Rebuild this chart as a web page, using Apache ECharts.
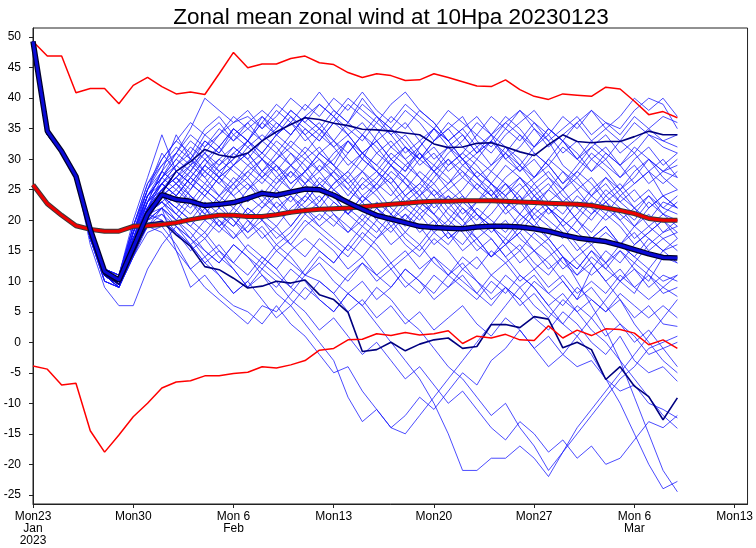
<!DOCTYPE html>
<html>
<head>
<meta charset="utf-8">
<script src="https://cdn.jsdelivr.net/npm/echarts@6/dist/echarts.min.js"></script>
<style>
  html, body { margin: 0; padding: 0; background: #fff; }
  #chart { width: 756px; height: 548px; }
</style>
</head>
<body>
<div id="chart"></div>
<script>
// tick labels (days since Mon 23 Jan 2023)
var tickDays = [0, 7, 14, 21, 28, 35, 42, 49];
var tickLabels = ['Mon23\nJan\n2023', 'Mon30', 'Mon 6\nFeb', 'Mon13', 'Mon20', 'Mon27', 'Mon 6\nMar', 'Mon13'];
var yTicks = [-25, -20, -15, -10, -5, 0, 5, 10, 15, 20, 25, 30, 35, 40, 45, 50];

// climatology
var climMax = [49.3,46.9,46.9,40.9,41.6,41.6,39.1,42.1,43.4,41.9,
  40.7,41.0,40.6,44.0,47.5,45.0,45.6,45.6,46.5,46.9,
  45.8,45.5,44.2,43.4,44.0,43.7,42.9,43.0,44.0,43.4,
  42.7,42.0,41.9,43.0,41.4,40.3,39.8,40.7,40.5,40.3,
  41.8,41.5,39.5,37.3,37.8,36.8];
var climMean = [25.8,22.7,20.8,19.1,18.5,18.2,18.2,19.0,19.1,19.3,
  19.6,20.1,20.5,20.8,20.8,20.6,20.6,20.9,21.3,21.6,
  21.8,21.9,22.0,22.2,22.4,22.6,22.8,23.0,23.1,23.1,
  23.2,23.2,23.2,23.1,23.0,22.9,22.8,22.7,22.6,22.4,
  22.0,21.6,21.1,20.3,20.0,20.0];
var climMin = [-3.9,-4.4,-7.0,-6.7,-14.5,-18.0,-15.2,-12.2,-10.0,-7.5,
  -6.5,-6.3,-5.5,-5.5,-5.1,-4.9,-4.0,-4.2,-3.7,-3.0,
  -1.3,-1.0,0.4,0.5,1.4,1.1,1.6,1.2,1.4,1.9,
  -0.2,1.0,0.7,1.3,0.4,0.3,2.7,0.7,2.0,1.1,
  2.2,2.1,1.5,-0.4,0.4,-1.0];

// ensemble mean and the two dark runs
var ensMean = [49.3,34.6,31.3,27.2,18.5,11.6,10.2,15.5,21.0,24.2,
  23.4,23.1,22.4,22.6,22.9,23.6,24.4,24.1,24.6,25.1,
  25.0,24.1,22.9,21.8,20.8,20.2,19.6,19.0,18.8,18.7,
  18.6,18.9,19.0,19.0,18.9,18.6,18.2,17.6,17.1,16.8,
  16.5,15.9,15.2,14.5,13.9,13.8];
var runA = [49.3,34.8,31.2,27.0,18.0,11.0,9.5,15.0,21.5,24.5,
  28.0,29.6,31.6,30.7,30.3,31.0,33.0,34.5,35.7,36.8,
  36.5,35.9,35.5,34.9,34.8,34.6,34.3,34.0,32.5,31.9,
  32.0,32.6,32.7,32.0,31.2,30.6,32.4,34.0,32.9,32.7,
  32.9,32.9,33.7,34.6,34.0,34.0];
var runB = [49.3,34.5,31.0,27.0,18.0,11.5,9.5,14.5,19.5,19.8,
  17.6,15.7,12.4,11.9,10.5,8.9,9.2,10.0,9.7,10.2,
  7.8,7.0,4.9,-1.5,-1.2,0.0,-1.4,-0.3,0.4,0.7,
  -1.0,-0.7,2.9,2.9,2.4,4.2,3.8,-0.9,0.0,-1.2,
  -6.1,-4.0,-7.2,-8.9,-12.7,-9.1];

// ensemble members
var m01 = [49,35,31,27,18,11,9,15,22,27, 31,35,40,38,36,37,35,38,36,39, 37,40,38,41,38,36,39,37,35,38, 36,34,37,35,38,36,33,35,37,34, 36,35,38,40,39,35];
var m02 = [49,35,31,27,17,10,9,16,23,26, 28,30,33,31,34,36,33,35,38,36, 39,37,34,36,33,35,32,30,33,35, 37,33,31,34,36,38,35,33,36,38, 35,37,40,38,40,37];
var m03 = [49,34,31,27,18,12,10,17,22,25, 27,25,29,27,31,33,36,34,37,35, 33,36,39,37,35,32,34,31,29,32, 30,27,29,32,30,27,30,33,31,28, 30,33,31,34,32,31];
var m04 = [49,35,31,27,17,11,10,18,24,28, 26,29,27,30,28,26,24,27,25,28, 31,29,33,30,34,37,35,38,36,33, 35,32,34,30,28,31,29,26,29,32, 30,27,29,26,28,29];
var m05 = [49,35,31,27,18,12,11,19,25,30, 33,31,35,37,34,32,30,33,31,28, 30,27,25,28,26,29,32,30,33,36, 34,31,33,30,32,35,33,29,27,30, 28,25,27,30,28,27];
var m06 = [49,34,31,27,17,11,9,14,20,24, 23,26,24,27,29,31,28,30,33,31, 34,32,29,31,33,30,28,31,28,25, 27,30,28,31,29,32,35,33,30,28, 31,29,26,28,24,25];
var m07 = [49,35,31,27,18,12,10,17,23,28, 34,30,27,24,26,23,25,22,24,21, 23,26,28,25,27,30,28,32,35,33, 30,28,26,29,27,24,26,23,25,22, 25,23,21,24,22,24];
var m08 = [49,35,31,27,18,11,10,16,21,24, 26,23,21,24,22,25,27,29,26,28, 31,33,30,28,31,29,26,24,27,30, 28,25,23,26,24,21,23,25,22,20, 23,21,19,22,24,22];
var m09 = [49,35,31,27,17,10,9,17,24,27, 29,32,30,27,25,28,30,27,29,32, 30,28,31,34,32,29,27,24,26,23, 25,28,26,23,21,24,22,19,21,24, 22,20,17,19,21,19];
var m10 = [49,34,31,27,18,12,11,18,24,26, 24,22,25,23,20,18,21,19,22,24, 27,25,23,26,28,25,22,24,21,19, 22,20,23,25,27,24,21,23,20,18, 21,19,16,18,20,18];
var m11 = [49,35,31,27,18,11,10,16,22,25, 27,29,31,28,30,33,31,29,26,28, 25,23,21,24,22,20,23,21,18,20, 23,21,19,17,20,22,25,23,20,17, 19,16,14,17,15,16];
var m12 = [49,35,31,27,17,11,9,15,21,23, 21,19,22,20,17,19,22,24,21,23, 26,24,21,19,22,20,17,15,18,16, 19,17,14,16,19,17,15,12,14,16, 13,15,12,10,14,13];
var m13 = [49,35,31,27,18,12,10,17,22,24, 22,25,28,26,24,21,23,26,28,25, 22,20,18,21,19,16,18,21,23,20, 18,15,17,14,16,13,11,14,12,15, 12,10,13,11,9,11];
var m14 = [49,34,31,27,17,11,10,18,23,25, 27,24,22,19,17,20,18,15,17,20, 18,16,14,17,15,12,14,16,13,11, 14,12,15,13,10,12,9,11,8,10, 8,11,9,7,9,7.5];
var m15 = [49,35,31,27,18,12,10,16,20,22, 20,17,15,13,16,14,12,15,13,11, 14,12,10,13,11,9,12,10,8,11, 9,7,10,8,11,9,6,8,5,7, 5,8,6,4,6,4];
var m16 = [49,35,31,27,18,11,9,14,18,19, 16,12,9,7,5,3,6,5,8,11, 10,8,11,13,10,12,9,11,14,12, 10,8,11,9,7,10,8,6,9,7, 5,7,4,6,3,2.6];
var m17 = [49,35,31,27,17,10,9,16,23,28, 31,34,32,35,33,36,38,36,34,37, 35,32,34,31,29,32,30,27,25,22, 24,21,19,16,18,15,13,10,7,9, 6,3,1,-2,-1,-4];
var m18 = [49,34,31,27,18,12,11,18,24,27, 25,28,26,29,31,29,27,30,32,30, 28,31,33,30,28,26,29,31,28,26, 29,27,24,26,23,20,22,19,16,13, 10,7,3,0,-3,-5];
var m19 = [49,35,31,27,18,11,10,17,21,20, 18,16,13,15,12,9,11,8,6,9, 7,5,8,10,7,9,12,10,7,9, 11,8,6,9,7,4,2,5,3,0, -2,1,-3,-5,-4,-6.4];
var m20 = [49,35,31,27,17,11,10,15,19,21, 19,17,14,16,13,11,14,12,9,7, 10,8,5,7,4,6,3,5,2,4, 6,3,1,4,2,-1,1,-2,-4,-3, -6,-8,-7,-10,-11,-12.4];
var m21 = [49,34,31,27,18,12,10,17,22,25, 23,21,24,22,20,17,19,16,18,21, 19,17,15,18,16,13,15,12,14,11, 13,10,8,11,9,6,4,7,5,2, 0,-3,-6,-9,-12,-14.1];
var m22 = [49,35,31,27,18,11,10,16,22,26, 29,27,30,32,29,31,28,26,29,27, 25,28,26,23,25,22,20,23,21,18, 16,19,17,14,11,9,6,3,1,-2, -6,-10,-15,-20,-24,-22.8];
var m23 = [49,35,31,27,17,11,9,14,19,22, 24,27,25,28,30,33,31,34,32,35, 33,36,34,31,33,30,32,29,31,28, 30,27,25,22,24,20,17,14,10,6, 2,-3,-9,-15,-21,-24.5];
var m24 = [49,35,31,27,18,12,10,17,21,23, 20,18,15,13,16,14,11,9,12,10, 7,5,8,6,3,0,-3,-6,-10,-15, -21,-21,-19,-19,-17,-19,-22,-18,-15,-12, -9,-6,-4,-1,0,1];
var m25 = [49,34,31,27,17,11,9,15,19,18, 15,12,14,11,8,10,7,4,6,3, 0,-3,-9,-13,-11,-14,-15,-12,-9,-6, -3,0,3,6,9,11,8,10,7,12, 15,13,16,18,20,17];
var m26 = [49,35,31,27,18,12,10,16,20,22, 15,9,11,8,6,5,3,6,3,1, -2,-5,-4,-8,-11,-14,-12,-9,-11,-8, -5,-7,-3,-1,2,-1,-4,-2,1,4, 7,10,8,12,10,11];
var m27 = [49,35,31,27,18,11,10,17,22,24, 21,19,17,20,18,15,13,16,14,11, 13,10,8,6,9,7,4,2,-1,-4, -6,-9,-12,-10,-14,-17,-21,-18,-14,-11, -8,-5,-2,1,4,7];
var m28 = [49,34,31,27,17,11,9,16,20,21, 18,15,17,14,12,9,12,10,7,5, 2,4,1,-2,0,-3,-6,-4,-7,-10, -8,-11,-14,-16,-13,-15,-18,-16,-19,-17, -20,-19,-16,-13,-14,-12];
var m29 = [49,35,31,27,18,12,11,19,26,29, 32,30,34,36,33,35,37,35,38,36, 34,37,35,33,36,34,31,33,30,32, 29,31,34,32,29,27,30,28,25,27, 24,26,23,25,22,21];
var m30 = [49,35,31,27,18,11,10,18,25,31, 28,26,29,32,35,33,36,39,37,34, 36,33,31,34,37,35,33,30,28,31, 33,36,34,37,35,32,34,31,33,30, 32,29,31,28,30,27];
var m31 = [49,34,31,27,17,11,10,16,22,26, 24,27,30,28,26,29,31,34,36,34, 31,29,26,28,25,27,24,22,25,23, 20,23,25,22,19,22,20,18,15,17, 19,16,18,15,17,15];
var m32 = [49,35,31,27,18,12,10,16,21,23, 25,23,20,22,25,27,24,22,19,22, 24,21,19,17,20,23,25,28,26,29, 31,29,26,24,27,25,22,20,18,21, 23,20,22,19,17,18];
var m33 = [49,35,31,27,18,11,9,15,20,22, 20,23,26,24,27,25,28,31,29,26, 23,26,28,31,29,27,24,26,29,27, 24,21,19,22,25,27,29,26,28,31, 29,27,30,32,29,31];
var m34 = [49,35,31,27,18,12,10,17,24,27, 30,28,32,34,37,35,33,36,34,37, 39,37,40,38,36,39,41,38,36,33, 35,37,34,36,38,35,32,34,36,33, 35,33,36,34,33,34];
var m35 = [49,34,31,27,17,10,9,15,19,20, 18,16,18,15,13,16,14,12,15,17, 15,13,16,14,17,19,16,14,17,15, 12,14,11,13,15,12,14,16,13,11, 13,10,12,9,11,10];
var m36 = [49,35,31,27,18,12,10,17,21,22, 19,16,13,11,8,10,13,11,9,12, 15,13,16,19,17,20,22,20,23,25, 23,26,24,21,23,26,28,25,27,24, 26,23,25,22,24,22];
var m37 = [49,34,31,27,16,9,6,6,12,16, 19,17,20,18,21,24,22,25,23,26, 28,25,23,26,24,21,19,22,20,17, 19,16,14,17,15,18,16,13,11,14, 12,15,13,16,18,19];
var m38 = [49,35,31,27,18,12,11,20,27,34, 28,26,29,27,24,26,23,21,24,22, 19,21,18,20,23,21,18,16,19,22, 20,17,19,16,18,21,19,17,20,23, 21,24,22,20,23,22];
var m39 = [49,35,31,27,18,11,10,18,23,26, 29,31,28,30,32,30,27,25,28,26, 29,27,24,27,25,28,26,23,21,24, 22,19,21,24,26,23,25,28,26,24, 27,25,28,30,27,25];
var m40 = [49,35,31,27,17,11,10,16,21,24, 22,20,23,21,19,22,20,18,16,19, 21,19,22,20,18,21,24,26,24,21, 19,21,18,20,17,15,17,14,12,15, 13,16,14,12,15,13];
var m41 = [49,35,31,27,18,12,10,18,24,27, 30,33,31,34,36,38,35,37,40,38, 41,38,36,39,37,34,36,33,35,32, 34,31,33,36,34,31,29,32,30,33, 31,29,32,30,28,30];
var m42 = [49,34,31,27,17,11,9,16,22,25, 28,26,24,27,29,27,30,28,25,23, 26,24,21,23,20,18,21,19,16,18, 15,17,14,16,13,15,12,14,11,13, 10,12,9,11,8,9];
var m43 = [49,35,31,27,18,12,10,17,22,24, 22,20,18,21,19,22,20,23,21,24, 22,25,27,24,26,29,27,30,32,29, 31,34,32,35,33,36,34,37,35,38, 36,34,37,35,37,36];
var m44 = [49,35,31,27,18,11,10,18,25,29, 31,29,33,31,35,33,37,34,36,33, 35,38,36,40,37,35,38,36,33,35, 32,30,33,31,28,30,27,25,28,26, 23,25,22,24,21,20];
var m45 = [49,35,31,27,17,11,10,17,22,23, 21,24,22,19,21,18,20,17,19,22, 20,23,21,24,22,19,21,18,20,17, 19,22,20,18,21,19,17,20,18,16, 18,16,19,17,15,17];
var m46 = [49,34,31,27,18,12,11,19,25,28, 26,28,31,29,32,30,33,31,34,37, 35,33,36,34,31,33,30,32,35,33, 30,32,29,31,34,32,35,33,30,32, 34,31,33,35,33,32];
var m47 = [49,35,31,27,18,12,10,17,21,24, 26,24,21,19,22,20,17,19,16,14, 17,15,12,14,11,13,10,8,11,9, 12,10,7,9,6,8,5,3,6,4, 1,3,0,2,-1,0];
var m48 = [49,35,31,27,18,11,10,19,26,30, 33,36,34,32,35,33,30,28,31,29, 26,28,25,23,26,24,27,25,22,24, 21,23,26,24,21,19,22,20,23,21, 24,22,20,23,21,23];
var m49 = [49,34,31,27,17,11,9,16,21,25, 27,30,28,26,29,32,34,32,29,31, 28,30,33,31,28,26,23,25,28,30, 27,25,28,26,23,25,27,24,22,25, 27,24,26,28,26,28];
var m50 = [49,35,31,27,18,12,10,17,23,26, 24,27,25,23,26,28,26,29,27,30, 32,29,27,30,28,31,29,27,24,26, 28,26,24,27,29,26,23,21,24,22, 20,22,19,21,18,20];

var members = [m01,m02,m03,m04,m05,m06,m07,m08,m09,m10,m11,m12,m13,m14,m15,m16,m17,m18,m19,m20,
  m21,m22,m23,m24,m25,m26,m27,m28,m29,m30,m31,m32,m33,m34,m35,m36,m37,m38,m39,m40,
  m41,m42,m43,m44,m45,m46,m47,m48,m49,m50];

function pts(arr) {
  return arr.map(function (v, i) { return [i, v]; });
}
function line(arr, color, width, z) {
  return {
    type: 'line', data: pts(arr), symbol: 'none', silent: true, z: z,
    lineStyle: { color: color, width: width }
  };
}

var series = [];
members.forEach(function (m) {
  series.push(line(m, 'rgba(20,20,255,0.9)', 0.85, 2));
});
series.push(line(runA, '#000080', 1.6, 3));
series.push(line(runB, '#000080', 1.6, 3));
series.push(line(climMax, '#ff0000', 1.5, 4));
series.push(line(climMin, '#ff0000', 1.5, 4));
// thick lines: dark edge under a coloured core
series.push(line(climMean, '#3a3a3a', 5, 5));
series.push(line(climMean, '#ee0000', 3, 6));
series.push(line(ensMean, '#00002a', 5.5, 7));
series.push(line(ensMean, '#0a0ad8', 3, 8));

var chart = echarts.init(document.getElementById('chart'), null, { renderer: 'canvas' });
chart.setOption({
  animation: false,
  backgroundColor: '#fff',
  textStyle: { fontFamily: 'Liberation Sans, Arial, sans-serif' },
  title: {
    text: 'Zonal mean zonal wind at 10Hpa 20230123',
    left: 386, top: 1, textAlign: 'center',
    textStyle: { fontSize: 22.5, fontWeight: 'normal', color: '#000', fontFamily: 'Liberation Sans, Arial, sans-serif' }
  },
  grid: { left: 33, right: 8, top: 28, bottom: 44, show: true, borderColor: '#222', borderWidth: 1, backgroundColor: 'transparent' },
  xAxis: {
    type: 'value', min: 0, max: 49.9,
    axisLine: { show: true, onZero: false, lineStyle: { color: '#222', width: 1 } },
    axisTick: { show: true, length: 4, customValues: tickDays, lineStyle: { color: '#222' } },
    axisLabel: {
      customValues: tickDays, margin: 7, color: '#000', fontSize: 12, lineHeight: 12,
      formatter: function (v) { var k = tickDays.indexOf(Math.round(v)); return k < 0 ? '' : tickLabels[k]; }
    },
    splitLine: { show: false }
  },
  yAxis: {
    type: 'value', min: -26.5, max: 51.5,
    axisLine: { show: true, onZero: false, lineStyle: { color: '#222', width: 1 } },
    axisTick: { show: true, length: 4, customValues: yTicks, lineStyle: { color: '#222' } },
    axisLabel: { customValues: yTicks, margin: 12, color: '#000', fontSize: 12 },
    splitLine: { show: false }
  },
  series: series
});
</script>
</body>
</html>
